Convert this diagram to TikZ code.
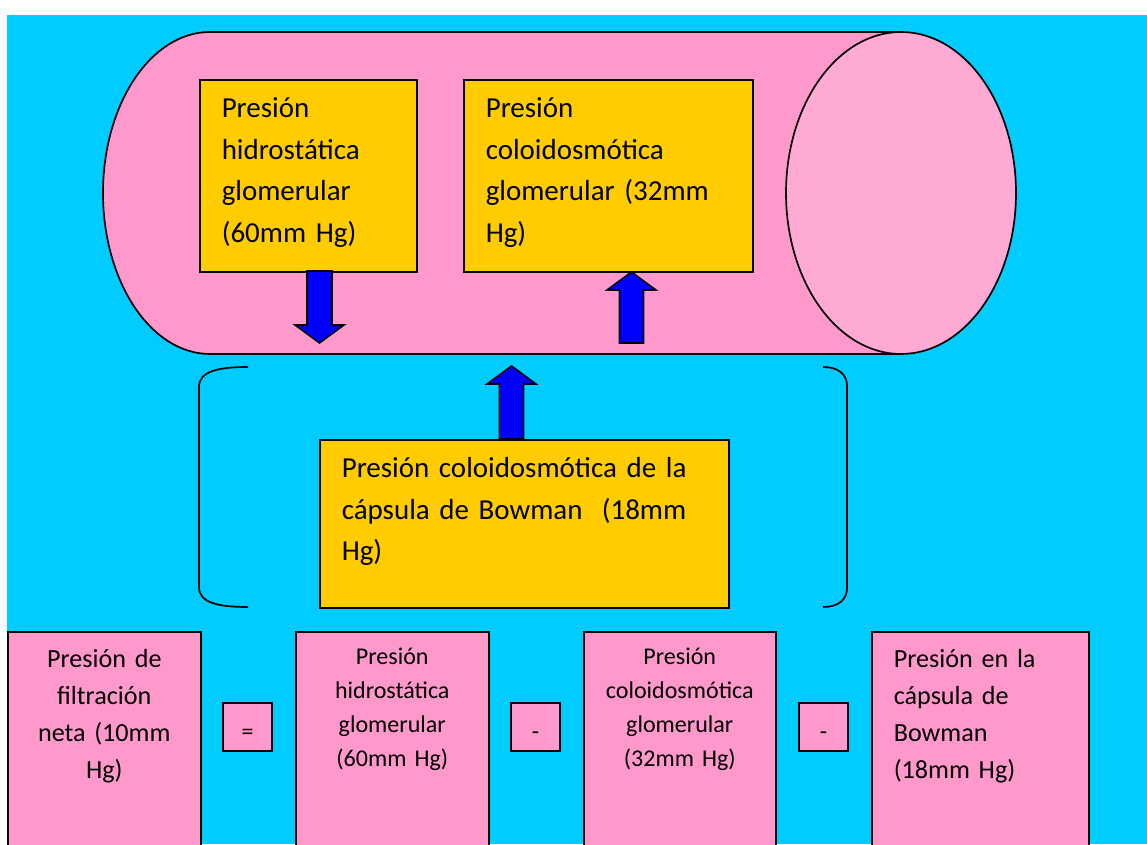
\documentclass[tikz,border=0pt]{standalone}
\usepackage{fontspec}
\setmainfont{Carlito}
\definecolor{bgcyan}{HTML}{00CCFF}
\definecolor{tubepink}{HTML}{FF99CC}
\definecolor{tubeend}{HTML}{FFAAD4}
\definecolor{boxyellow}{HTML}{FFCC00}
\definecolor{pushblue}{HTML}{0000FF}
\tikzset{
  ybox/.style={draw, line width=1.1pt, fill=boxyellow, anchor=north west, inner ysep=0pt, inner xsep=0.55cm, align=left, text height=0.95cm, font=\fontsize{20.6}{29.5}\selectfont},
  pbox/.style={draw, line width=1.1pt, fill=tubepink, anchor=north west, inner ysep=0pt, inner xsep=0.2cm, align=center, text height=0.9cm, text depth=4.725cm},
  bigtxt/.style={font=\fontsize{18.6}{26.3}\selectfont},
  smalltxt/.style={font=\fontsize{17.1}{24.2}\selectfont},
  opbox/.style={draw, line width=1.1pt, fill=tubepink, minimum width=1.225cm, minimum height=1.2cm, inner sep=0pt, text height=0.6cm, text depth=0pt, font=\fontsize{17}{20}\selectfont},
  pusharrow/.style={draw, line width=1.1pt, fill=pushblue, line join=miter},
  bracket/.style={line width=1.2pt}
}
\begin{document}
\begin{tikzpicture}
  \useasboundingbox (0,0) rectangle (28.675,21.1);
  \fill[white] (0,0) rectangle (28.675,21.1);
  \fill[bgcyan] (0.175,0) rectangle (28.675,20.725);
  \coordinate (tubeL) at (5.25,16.275);
  \coordinate (tubeR) at (22.525,16.275);
  \coordinate (c1) at (4.975,19.125);
  \coordinate (c2) at (11.575,19.125);
  \coordinate (c3) at (7.975,10.125);
  \coordinate (b1) at (0.175,5.325);
  \coordinate (b2) at (7.375,5.325);
  \coordinate (b3) at (14.575,5.325);
  \coordinate (b4) at (21.775,5.325);
  \coordinate (ar1) at (7.9875,14.325);
  \coordinate (ar2) at (15.7875,12.525);
  \coordinate (ar3) at (12.7875,10.125);
  % capillary
  \draw[line width=1.2pt, fill=tubepink] (22.525,20.3) -- (5.25,20.3) arc[start angle=90, end angle=270, x radius=2.675cm, y radius=4.025cm] -- (22.525,12.25) -- cycle;
  \draw[line width=1.2pt, fill=tubeend] (tubeR) ellipse [x radius=2.875cm, y radius=4.025cm];
  \node[ybox, text width=4.325cm, text depth=3.85cm] (hydroTop) at (c1) {Presión\\ hidrostática\\ glomerular\\ (60mm Hg)};
  \node[ybox, text width=6.125cm, text depth=3.85cm] (oncoTop) at (c2) {Presión\\ coloidosmótica\\ glomerular (32mm\\ Hg)};
  \draw[pusharrow] (ar1) ++(-0.3125,0) -- ++(0,-1.35) -- ++(-0.3,0) -- ++(0.6125,-0.45) -- ++(0.6125,0.45) -- ++(-0.3,0) -- ++(0,1.35) -- cycle;
  \draw[pusharrow] (ar2) ++(-0.3,0) -- ++(0,1.325) -- ++(-0.3125,0) -- ++(0.6125,0.45) -- ++(0.6125,-0.45) -- ++(-0.3125,0) -- ++(0,-1.325) -- cycle;
  % capsule
  \draw[bracket] (6.2,11.925) .. controls (5.4,11.925) and (4.975,11.8) .. (4.975,11.425) -- (4.975,6.425) .. controls (4.975,6.05) and (5.4,5.925) .. (6.2,5.925);
  \draw[bracket] (20.575,11.925) .. controls (20.95,11.925) and (21.175,11.75) .. (21.175,11.45) -- (21.175,6.4) .. controls (21.175,6.1) and (20.95,5.925) .. (20.575,5.925);
  \draw[pusharrow] (ar3) ++(-0.3,0) -- ++(0,1.375) -- ++(-0.3125,0) -- ++(0.6125,0.45) -- ++(0.6125,-0.45) -- ++(-0.3125,0) -- ++(0,-1.375) -- cycle;
  \node[ybox, text width=9.125cm, text depth=3.25cm] (bowTop) at (c3) {Presión coloidosmótica de la\\ cápsula de Bowman\ \ (18mm\\ Hg)};
  % equation
  \node[pbox, bigtxt, text width=4.425cm] (netBox) at (b1) {Presión de\\ filtración\\ neta (10mm\\ Hg)};
  \node[pbox, smalltxt, text width=4.425cm, text height=0.825cm, text depth=4.8cm] (hydroBox) at (b2) {Presión\\ hidrostática\\ glomerular\\ (60mm Hg)};
  \node[pbox, smalltxt, text width=4.4cm, text height=0.825cm, text depth=4.8cm] (oncoBox) at (b3) {Presión\\ coloidosmótica\\ glomerular\\ (32mm Hg)};
  \node[pbox, bigtxt, align=left, inner xsep=0.55cm, text width=4.325cm] (capsBox) at (b4) {Presión en la\\ cápsula de\\ Bowman\\ (18mm Hg)};
  \node[opbox] (eqSign) at (6.1875,2.925) {=};
  \node[opbox] (minusA) at (13.3875,2.925) {-};
  \node[opbox] (minusB) at (20.5875,2.925) {-};
\end{tikzpicture}
\end{document}
